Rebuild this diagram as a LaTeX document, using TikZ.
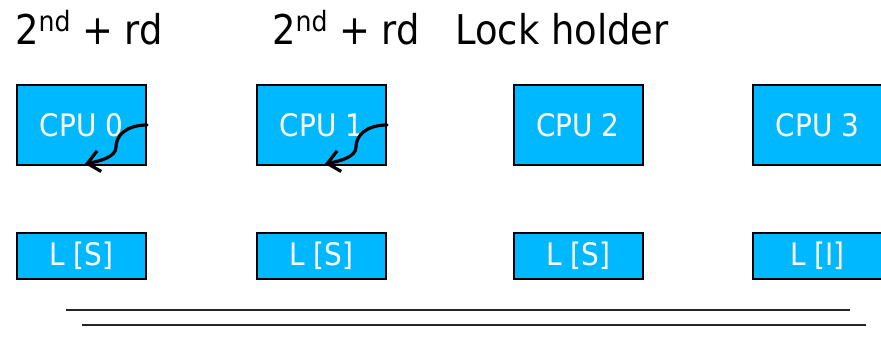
\documentclass[tikz,border=0pt]{standalone}
\usepackage{fontspec}
\setmainfont{DejaVu Sans}
\usetikzlibrary{arrows.meta}
\definecolor{cpublue}{RGB}{0,184,255}
\tikzset{
  cpubox/.style={draw=black,line width=2pt,fill=cpublue,text=white,
    minimum width=129pt,minimum height=80pt,inner sep=0pt,
    font=\fontsize{31}{31}\selectfont},
  lbox/.style={cpubox,minimum height=46pt},
  titletext/.style={anchor=base west,inner sep=0pt,font=\fontsize{41}{41}\selectfont},
  bus/.style={line width=2pt,draw=black!85},
  swirl/.style={line width=3.2pt,line cap=round,-{Straight Barb[length=12pt,width=21pt,line width=3.2pt]}}
}
\newcommand{\nrw}[1]{\scalebox{0.9}[1]{#1}}
\newcommand{\supnd}{\raisebox{13pt}{\fontsize{28}{28}\selectfont nd}}
\begin{document}
\begin{tikzpicture}[x=1pt,y=-1pt]
\useasboundingbox (0,0) rectangle (881,339);
\clip (0,0) rectangle (881,339);
% titles
\node[titletext] (t0) at (15,45) {\nrw{2\supnd{} + rd}};
\node[titletext] (t1) at (272,45) {\nrw{2\supnd{} + rd}};
\node[titletext] (t2) at (455,45) {\nrw{Lock holder}};
% CPUs
\node[cpubox] (c0) at (81.5,125) {\nrw{CPU 0}};
\node[cpubox] (c1) at (321.5,125) {\nrw{CPU 1}};
\node[cpubox] (c2) at (578,125) {\nrw{CPU 2}};
\node[cpubox] (c3) at (817.5,125) {\nrw{CPU 3}};
% caches
\node[lbox] (l0) at (81.5,256) {\nrw{L [S]}};
\node[lbox] (l1) at (321.5,256) {\nrw{L [S]}};
\node[lbox] (l2) at (578,256) {\nrw{L [S]}};
\node[lbox] (l3) at (817.5,256) {\nrw{L [I]}};
% swirl arrows
\coordinate (m0) at ([shift={(-31,22)}]c0.east);
\coordinate (e0) at ([shift={(-62,39)}]c0.east);
\draw[swirl] (c0.east) .. controls ([shift={(-20,0)}]c0.east) and ([shift={(0,-12)}]m0) .. (m0)
  .. controls ([shift={(0,10)}]m0) and ([shift={(15,-3)}]e0) .. (e0);
\coordinate (m1) at ([shift={(-31,22)}]c1.east);
\coordinate (e1) at ([shift={(-62,39)}]c1.east);
\draw[swirl] (c1.east) .. controls ([shift={(-20,0)}]c1.east) and ([shift={(0,-12)}]m1) .. (m1)
  .. controls ([shift={(0,10)}]m1) and ([shift={(15,-3)}]e1) .. (e1);
% bus lines
\coordinate (b1a) at (66,309.5);
\coordinate (b1b) at (850,309.5);
\coordinate (b2a) at (82,325);
\coordinate (b2b) at (866,325);
\draw[bus] (b1a) -- (b1b);
\draw[bus] (b2a) -- (b2b);
\end{tikzpicture}
\end{document}
